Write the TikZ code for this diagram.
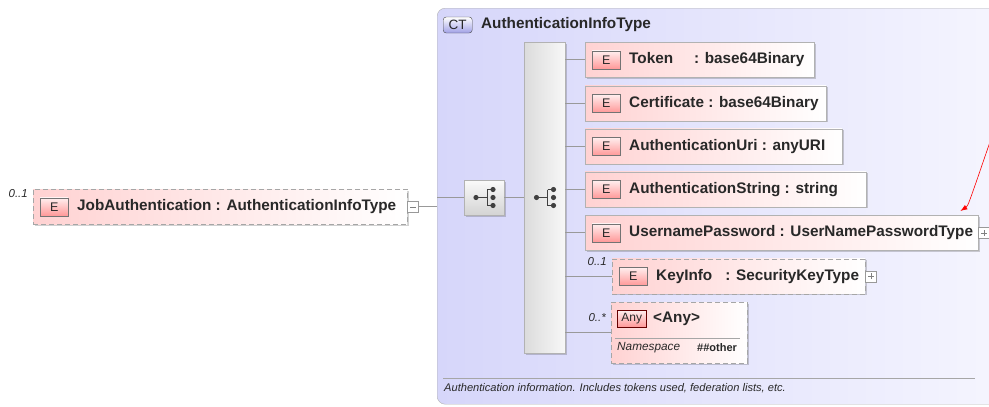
\documentclass[tikz,border=0pt]{standalone}
\usepackage{fontspec}
\setmainfont{Liberation Sans}
\usetikzlibrary{arrows.meta,shadows}

\definecolor{ctlav}{RGB}{214,214,250}
\definecolor{ctpale}{RGB}{248,248,255}
\definecolor{elpink}{RGB}{255,210,210}
\definecolor{txtgray}{RGB}{40,40,40}

\begin{document}
\begin{tikzpicture}
      [x=1pt,y=-1pt
      ,every node/.style={text=txtgray}
      ,lbl/.style={anchor=west,inner sep=0pt,font=\fontsize{15.3}{15.3}\selectfont\bfseries}
      ,card/.style={anchor=east,inner sep=0pt,font=\fontsize{11.5}{11.5}\selectfont\itshape}
      ,elem/.style={draw=black!30,left color=elpink,right color=white,minimum height=35pt,inner sep=0pt,anchor=north west
                   ,drop shadow={shadow xshift=1.5pt,shadow yshift=-1.5pt,fill=black,opacity=.18}}
      ,optelem/.style={elem,draw=black!35,dash pattern=on 5pt off 3pt}
      ,eicon/.style={draw=black!55,top color=red!6,bottom color=red!40,minimum width=28pt,minimum height=18pt,inner sep=0pt,anchor=west
                    ,font=\fontsize{12.5}{12.5}\selectfont}
      ,anyicon/.style={eicon,draw=red!40!black,minimum width=29pt,minimum height=17pt,font=\fontsize{12}{12}\selectfont}
      ,cticon/.style={draw=black!70,rounded corners=3pt,top color=white,bottom color={rgb,255:red,160;green,160;blue,230}
                     ,minimum width=29pt,minimum height=16pt,inner sep=0pt,anchor=west,font=\fontsize{13.5}{13.5}\selectfont}
      ,ctbox/.style={draw=black!30,rounded corners=8pt,left color=ctlav,right color=ctpale,anchor=north west,inner sep=0pt}
      ,seqbox/.style={draw=black!30,top color=black!2,bottom color=black!17,minimum width=40pt,minimum height=35pt,inner sep=0pt
                     ,drop shadow={shadow xshift=1.5pt,shadow yshift=-1.5pt,fill=black,opacity=.18}}
      ,seqbar/.style={seqbox,left color=black!14,right color=black!3,minimum width=41pt,minimum height=311pt}
      ,seqglyph/.pic={
          \draw[black!75,line width=.9pt] (-8,0) -- (3,0) (3,-8) -- (3,8) (3,-8) -- (9,-8) (3,8) -- (9,8);
          \fill[black!75] (-8,0) circle (2.6pt) (9,-8) circle (2.6pt) (9,0) circle (2.6pt) (9,8) circle (2.6pt);
        }
      ,conn/.style={draw=black!40,line width=.8pt}
      ,sepline/.style={draw=black!35,line width=.8pt}
      ,expbox/.style={draw=black!40,fill=white,minimum size=11pt,inner sep=0pt,anchor=west
                     ,path picture={\draw[black!50] ([xshift=2.5pt]path picture bounding box.west) -- ([xshift=-2.5pt]path picture bounding box.east);}}
      ,plusbox/.style={expbox
                     ,path picture={\draw[black!50] ([xshift=2.5pt]path picture bounding box.west) -- ([xshift=-2.5pt]path picture bounding box.east)
                                    ([yshift=2.5pt]path picture bounding box.south) -- ([yshift=-2.5pt]path picture bounding box.north);}}
      ,nslbl/.style={anchor=west,inner sep=0pt,font=\fontsize{11.8}{11.8}\selectfont\itshape}
      ,nsval/.style={anchor=west,inner sep=0pt,font=\fontsize{11}{11}\selectfont\bfseries}
      ,doc/.style={anchor=west,inner sep=0pt,font=\fontsize{11.1}{11.1}\selectfont\itshape}
      ]
        \useasboundingbox (0,0) rectangle (989,407);

        % complex type frame
        \node[ctbox,minimum width=620pt,minimum height=396pt] (ct) at (437,8) {};
        \node[cticon] (ct-i) at (443,25) {CT};
        \node[lbl] (ct-t) at (481,25) {AuthenticationInfoType};
        \draw[sepline] (443,378) -- (975,378);
        \node[doc] (ct-doc) at (444,388) {Authentication information. Includes tokens used, federation lists, etc.};

        % the element itself
        \node[optelem,minimum width=374pt] (job) at (33,189) {};
        \node[eicon] (job-e) at ([xshift=7pt]job.west) {E};
        \node[lbl] (job-t) at ([xshift=44pt]job.west) {JobAuthentication : AuthenticationInfoType};
        \node[card] (job-c) at ([xshift=-5pt,yshift=-4.5pt]job.north west) {0..1};
        \node[expbox] (job-m) at (job.east) {};

        % sequences
        \node[seqbox] (seq) at (484,197.5) {};
        \pic at (seq.center) {seqglyph};
        \node[seqbar] (bar) at (544.5,197.5) {};
        \pic at (bar.center) {seqglyph};

        \foreach \nm/\ytop/\bw/\txt in
          {tok/42/229/{Token\hspace{21pt}: base64Binary}
          ,cert/85.5/241/{Certificate : base64Binary}
          ,uri/128.5/257/{AuthenticationUri : anyURI}
          ,str/171.5/281/{AuthenticationString : string}
          ,usr/215/393/{UsernamePassword : UserNamePasswordType}}{
            \node[elem,minimum width=\bw pt] (\nm) at (585,\ytop) {};
            \node[eicon] (\nm-e) at ([xshift=7pt]\nm.west) {E};
            \node[lbl] (\nm-t) at ([xshift=44pt]\nm.west) {\txt};
        }
        \node[plusbox] (usr-p) at (usr.east) {};

        \node[optelem,minimum width=253pt] (key) at (612,258.5) {};
        \node[eicon] (key-e) at ([xshift=7pt]key.west) {E};
        \node[lbl] (key-t) at ([xshift=44pt]key.west) {KeyInfo\hspace{13pt}: SecurityKeyType};
        \node[card] (key-c) at ([xshift=-5pt,yshift=-3.5pt]key.north west) {0..1};
        \node[plusbox] (key-p) at (key.east) {};

        \node[optelem,minimum width=136pt,minimum height=61pt] (any) at (611,302) {};
        \node[anyicon] (any-i) at ([shift={(6pt,-16.5pt)}]any.north west) {Any};
        \node[lbl] (any-t) at ([shift={(42pt,-16.5pt)}]any.north west) {<Any>};
        \draw[sepline] ([shift={(4pt,-36pt)}]any.north west) -- ([shift={(-7pt,-36pt)}]any.north east);
        \node[nslbl] (any-ns) at ([shift={(6pt,-46pt)}]any.north west) {Namespace};
        \node[nsval] (any-nv) at ([shift={(86pt,-46pt)}]any.north west) {\#\#other};
        \node[card] (any-c) at ([xshift=-5pt,yshift=-16pt]any.north west) {0..*};

        % connectors
        \draw[conn] (job-m.east) -- (job-m.east -| ct.west);
        \draw[conn] (ct.west |- seq.west) -- (seq.west);
        \draw[conn] (seq.east) -- (seq.east -| bar.west);
        \foreach \c in {tok,cert,uri,str,usr,key,any}
            \draw[conn] (bar.east |- \c.west) -- (\c.west);

        % red pointer
        \coordinate (arr-src) at (992,136);
        \coordinate (arr-tip) at ([shift={(-18pt,4pt)}]usr.north east);
        \draw[red,line width=.6pt,-{Latex[length=7pt,width=5pt]}] (arr-src) .. controls (968,206) .. (arr-tip);
      \end{tikzpicture}
\end{document}
